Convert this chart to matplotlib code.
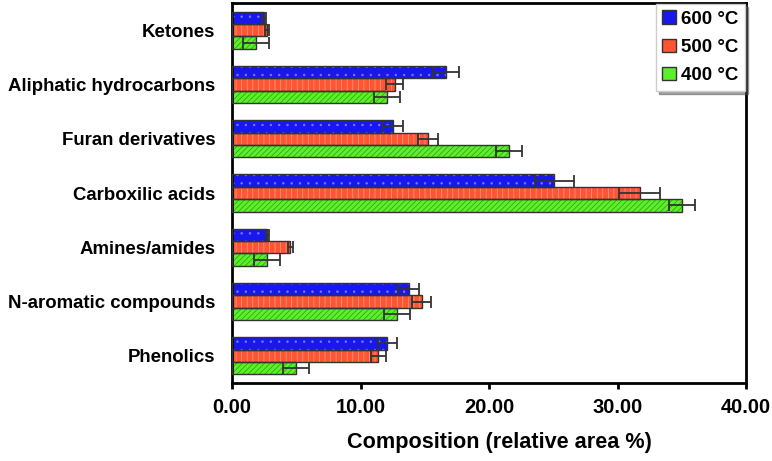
import matplotlib
matplotlib.use("Agg")
import matplotlib.pyplot as plt
import numpy as np

plt.rcParams['font.family'] = ['Liberation Sans', 'DejaVu Sans']
plt.rcParams['font.weight'] = 'bold'
plt.rcParams['hatch.linewidth'] = 0.5

categories = ['Ketones', 'Aliphatic hydrocarbons', 'Furan derivatives',
              'Carboxilic acids', 'Amines/amides', 'N-aromatic compounds',
              'Phenolics']
series = ['600 °C', '500 °C', '400 °C']

# values (relative area %), top category first
v600 = [2.49, 16.66, 12.53, 25.07, 2.74, 13.74, 12.08]
v500 = [2.75, 12.65, 15.22, 31.73, 4.54, 14.75, 11.40]
v400 = [1.89, 12.06, 21.56, 35.03, 2.74, 12.86, 4.99]
e600 = [0.13, 1.01, 0.76, 1.51, 0.12, 0.82, 0.74]
e500 = [0.15, 0.66, 0.78, 1.60, 0.20, 0.74, 0.57]
e400 = [1.01, 1.01, 1.00, 1.03, 1.00, 1.01, 1.01]

fills = ['#1818ee', '#ff5533', '#5cf02a']
hatch_cols = ['#7a7aff', '#ffa08a', '#2a9a18']
hatches = ['..', '|||', '//////']

fig = plt.figure(figsize=(7.72, 4.61), dpi=100)
ax = fig.add_axes([232 / 772, 1 - 383 / 461, (746 - 232) / 772, (383 - 3) / 461])

n = len(categories)
y = np.arange(n)[::-1].astype(float)
h = 0.228
offsets = [h, 0.0, -h]
vals = [v600, v500, v400]
errs = [e600, e500, e400]

handles = []
for k in range(3):
    yy = y + offsets[k]
    ax.barh(yy, vals[k], height=h, color=fills[k], hatch=hatches[k],
            edgecolor=hatch_cols[k], linewidth=0, zorder=2)
    ax.barh(yy, vals[k], height=h, fill=False, edgecolor='#333333',
            linewidth=1.0, zorder=3)
    ax.errorbar(vals[k], yy, xerr=errs[k], fmt='none', ecolor='#333333',
                elinewidth=1.3, capsize=4, capthick=1.3, zorder=4)
    handles.append(plt.Rectangle((0, 0), 1, 1, facecolor=fills[k],
                                 edgecolor='#333333', linewidth=1.0))

ax.set_xlim(0, 40)
ax.set_ylim(-0.5, n - 0.5)
ax.set_xticks([0, 10, 20, 30, 40])
ax.set_xticklabels(['%.2f' % t for t in [0, 10, 20, 30, 40]])
ax.set_yticks(y)
ax.set_yticklabels(categories)
ax.tick_params(axis='x', direction='out', length=4, width=2, pad=7,
               labelsize=14.5)
ax.tick_params(axis='y', length=0, pad=12, labelsize=13.4)
for lab in ax.get_xticklabels() + ax.get_yticklabels():
    lab.set_fontweight('bold')
for s in ax.spines.values():
    s.set_linewidth(2)
    s.set_color('black')

ax.set_xlabel('Composition (relative area %)', fontsize=15.6,
              fontweight='bold', labelpad=12)
ax.xaxis.set_label_coords(0.52, -0.13)

leg = ax.legend(handles, series, loc='upper right', fontsize=13.5,
                handlelength=0.7, handleheight=0.7, handletextpad=0.3,
                borderpad=0.35, labelspacing=0.6, fancybox=False,
                shadow=True, framealpha=1, borderaxespad=0.05)
leg.get_frame().set_edgecolor('#cccccc')
leg.get_frame().set_linewidth(1.0)
for t in leg.get_texts():
    t.set_fontweight('bold')

fig.savefig('out.png', dpi=100)
